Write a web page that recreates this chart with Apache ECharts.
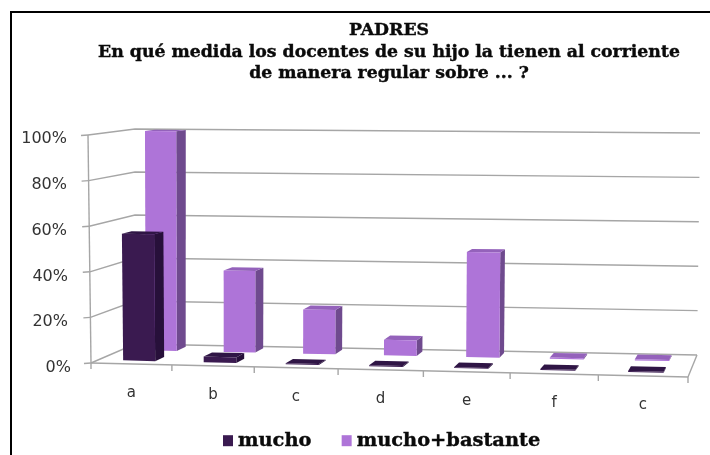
<!DOCTYPE html>
<html><head><meta charset="utf-8">
<style>html,body{margin:0;padding:0;background:#fff}#c{width:710px;height:455px;filter:blur(0.45px)}</style>
<script src="https://cdn.jsdelivr.net/npm/echarts@6/dist/echarts.min.js"></script>
</head><body><div id="c"></div>
<script>
var categories = ['a','b','c','d','e','f','c'];
var mucho = [56, 2.5, 0.4, 0.4, 0.4, 0.4, 0.4];
var muchoBastante = [100, 37, 20, 7, 47, 0.5, 0.5];
var percentTicks = [0, 20, 40, 60, 80, 100];
var titleText = 'PADRES\nEn qué medida los docentes de su hijo la tienen al corriente\nde manera regular sobre ... ?';

var G = {left: 91, right: 688, top: 139, bottom: 368};
var W = 710, H = 455;
var chart = echarts.init(document.getElementById('c'), null, {renderer: 'canvas'});

function lerp(a, b, t) { return a + (b - a) * t; }
function warp(px) {
  var t = (px - G.left) / (G.right - G.left);
  return G.left + (G.right - G.left) * (0.94 * t + 0.06 * t * t);
}
// px,py are positions on the flat cartesian grid (front plane); d is the depth 0..1
function project(px, py, d) {
  var t = (px - G.left) / (G.right - G.left);
  var f = (G.bottom - py) / (G.bottom - G.top);
  var tw = (warp(px) - G.left) / (G.right - G.left);
  var fx = lerp(91, 688, tw), fy = lerp(363, 377, t);
  var bx = lerp(135, 697, tw), by = lerp(344, 355, t);
  var x = lerp(fx, bx, d), y = lerp(fy, by, d);
  var h = lerp(lerp(228, 235, t), lerp(215, 222, t), d);
  var lean = lerp(lerp(-3, 3, t), lerp(0, 3, t), d);
  return [x + f * lean, y - f * h];
}
var BAR_U0 = 0.31, BAR_U1 = 0.71;
function barRender(d0, d1, front, side, top) {
  return function (params, api) {
    var i = api.value(0), v = api.value(1);
    var c0 = api.coord([i, 0]), c1 = api.coord([i, v]);
    var band = api.size([1, 0])[0];
    var xa = c0[0] - band / 2 + band * BAR_U0, xb = c0[0] - band / 2 + band * BAR_U1;
    var y0 = c0[1], y1 = c1[1];
    var p = function (x, y, d) { return project(x, y, d); };
    var A = p(xa, y0, d0), B = p(xb, y0, d0), C = p(xb, y1, d0), D = p(xa, y1, d0);
    var B2 = p(xb, y0, d1), C2 = p(xb, y1, d1), D2 = p(xa, y1, d1);
    return {type: 'group', children: [
      {type: 'polygon', shape: {points: [B, B2, C2, C]}, style: {fill: side}},
      {type: 'polygon', shape: {points: [D, C, C2, D2]}, style: {fill: top}},
      {type: 'polygon', shape: {points: [A, B, C, D]}, style: {fill: front}}
    ]};
  };
}
var lineStyle = {stroke: '#a6a6a6', lineWidth: 1.4, fill: 'none'};
function gridRender(params, api) {
  var v = api.value(0);
  var py = api.coord([0, v])[1];
  var L = G.left, R = G.right;
  var a = project(L, py, 0), b = project(L, py, 1), c = project(R, py, 1);
  var kids = [
    {type: 'polyline', shape: {points: [a, b, c]}, style: lineStyle},
    {type: 'line', shape: {x1: a[0] - 7, y1: a[1] + 0.5, x2: a[0], y2: a[1]}, style: lineStyle}
  ];
  if (v === 0) {
    var top = project(L, G.top, 0), d = project(R, py, 0);
    kids.push({type: 'line', shape: {x1: a[0], y1: a[1], x2: top[0], y2: top[1]}, style: lineStyle});
    kids.push({type: 'line', shape: {x1: a[0], y1: a[1], x2: d[0], y2: d[1]}, style: lineStyle});
    kids.push({type: 'line', shape: {x1: d[0], y1: d[1], x2: c[0], y2: c[1]}, style: lineStyle});
    var band = (R - L) / categories.length;
    for (var k = 0; k <= categories.length; k++) {
      var tk = project(L + k * band, py, 0);
      kids.push({type: 'line', shape: {x1: tk[0], y1: tk[1], x2: tk[0], y2: tk[1] + 6}, style: lineStyle});
    }
  }
  return {type: 'group', children: kids};
}
// per-label rich styles so the flat axis labels follow the receding floor edge
var xRich = {}, bandW = (G.right - G.left) / categories.length;
categories.forEach(function (c, i) {
  var cx = G.left + (i + 0.5) * bandW;
  var pt = project(cx, G.bottom, 0);
  var dx = pt[0] - cx, top = Math.max(0, pt[1] + 22 - G.bottom);
  xRich['l' + i] = {
    fontFamily: 'DejaVu Sans', fontSize: 15, color: '#333',
    padding: [top, dx < 0 ? -2 * dx : 0, 0, dx > 0 ? 2 * dx : 0]
  };
});
var yPad = {0: 0, 20: 3, 40: 3, 60: 4, 80: 4, 100: 4};
var yRich = {};
percentTicks.forEach(function (t) {
  yRich['p' + t] = {fontFamily: 'DejaVu Sans', fontSize: 16, color: '#333', padding: [0, yPad[t], 0, 0]};
});

chart.setOption({
  animation: false,
  backgroundColor: '#fff',
  title: {
    text: titleText, left: 384, top: 15, textAlign: 'center',
    textStyle: {fontFamily: 'DejaVu Serif', fontWeight: 'bold', fontSize: 17.3, lineHeight: 21.5, color: '#0a0a0a', textBorderColor: '#0a0a0a', textBorderWidth: 0.4}
  },
  legend: {
    data: ['mucho', 'mucho+bastante'], left: 223, top: 431, padding: 0, itemWidth: 10, itemHeight: 11, itemGap: 30,
    icon: 'rect',
    textStyle: {fontFamily: 'DejaVu Serif', fontWeight: 'bold', fontSize: 19.4, color: '#0a0a0a', textBorderColor: '#0a0a0a', textBorderWidth: 0.4}
  },
  grid: {left: G.left, right: W - G.right, top: G.top, bottom: H - G.bottom},
  xAxis: {
    type: 'category', data: categories,
    axisLine: {show: false}, axisTick: {show: false}, splitLine: {show: false},
    axisLabel: {
      margin: 0, interval: 0, rich: xRich,
      formatter: function (v, i) { return '{l' + i + '|' + v + '}'; }
    }
  },
  yAxis: {
    type: 'value', min: 0, max: 100, interval: 20,
    axisLine: {show: false}, axisTick: {show: false}, splitLine: {show: false},
    axisLabel: {
      margin: 20, rich: yRich,
      formatter: function (v) { return '{p' + v + '|' + v + '%}'; }
    }
  },
  graphic: [
    {type: 'line', shape: {x1: 10, y1: 12, x2: 710, y2: 12}, style: {stroke: '#000', lineWidth: 2}, silent: true},
    {type: 'line', shape: {x1: 11, y1: 11, x2: 11, y2: 455}, style: {stroke: '#000', lineWidth: 2}, silent: true}
  ],
  series: [
    {type: 'custom', name: 'walls', silent: true, renderItem: gridRender, data: percentTicks.map(function (t) { return [t]; }), encode: {y: 0}, z: 1},
    {type: 'custom', name: 'mucho+bastante', itemStyle: {color: '#ae74d8'}, z: 2,
     renderItem: barRender(0.7, 0.92, '#ae74d8', '#6f4a8e', '#9462bb'),
     data: muchoBastante.map(function (v, i) { return [i, v]; }), encode: {x: 0, y: 1}},
    {type: 'custom', name: 'mucho', itemStyle: {color: '#3a1a50'}, z: 3,
     renderItem: barRender(0.17, 0.39, '#3a1a50', '#27103a', '#2f1545'),
     data: mucho.map(function (v, i) { return [i, v]; }), encode: {x: 0, y: 1}}
  ]
});
</script></body></html>
